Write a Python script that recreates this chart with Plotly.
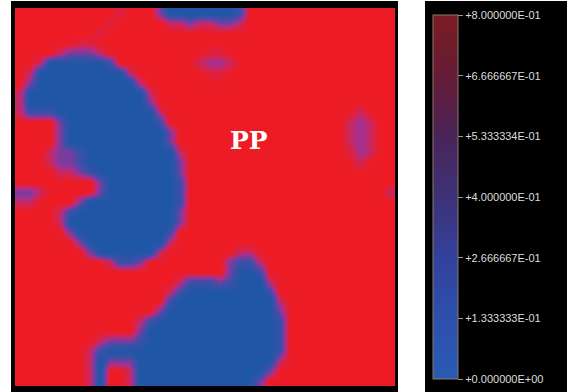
import plotly.graph_objects as go

# Phase-field map: 38 x 38 cells, row 0 = top
# B=0.0 (blue)  q=0.2  p=0.4  m=0.5  r=0.6  s=0.7  .=0.8 (red)
grid_rows = [
    "..........s...pBBBBBBBq...............",
    ".........s.....rrprrppr...............",
    "........s.............................",
    "......ss..............................",
    "....rpppr..........ss.................",
    "..rBBBBBBq........rmmr................",
    ".rBBBBBBBBBr.......ss.................",
    ".pBBBBBBBBBBr.........................",
    "rBBBBBBBBBBBBr........................",
    "rBBBBBBBBBBBBp........................",
    "rqqqBBBBBBBBBBr...................r...",
    "....pBBBBBBBBBq..................rmr..",
    "....pBBBBBBBBBBp.................rmr..",
    "....pBBBBBBBBBBp.................rmr..",
    "...rppqBBBBBBBBBr................smr..",
    "...rppqBBBBBBBBBp.................r...",
    "....rrpqBBBBBBBBp.....................",
    "........pBBBBBBBq.....................",
    "ppr.....pBBBBBBBq....................r",
    "rr....pBBBBBBBBBq.....................",
    "....rqBBBBBBBBBBp.....................",
    "....rBBBBBBBBBBBp.....................",
    ".....pBBBBBBBBBq......................",
    "......pBBBBBBBBr......................",
    ".......pBBBBBBr.......rr..............",
    ".........rqqp........pqqr.............",
    ".....................pBBq.............",
    "................rqqqpqBBBr............",
    "...............rqBBBBBBBBq............",
    "...............qBBBBBBBBBBr...........",
    "..............pBBBBBBBBBBBp...........",
    "............rqBBBBBBBBBBBBq...........",
    "............pBBBBBBBBBBBBBq...........",
    "........rpppqBBBBBBBBBBBBBq...........",
    ".......rqBBBBBBBBBBBBBBBBBq...........",
    ".......rBpppBBBBBBBBBBBBBBr...........",
    ".......rB..rBBBBBBBBBBBBBp............",
    ".......rB..rBBBBBBBBBBBBp.............",
]
level_of = {"B": 0.0, "q": 0.2, "p": 0.4, "m": 0.5, "r": 0.6, "s": 0.7, ".": 0.8}

tick_vals = [0.0, 0.1333333, 0.2666667, 0.4, 0.5333334, 0.6666667, 0.8]
tick_text = ["+0.000000E+00", "+1.333333E-01", "+2.666667E-01", "+4.000000E-01",
             "+5.333334E-01", "+6.666667E-01", "+8.000000E-01"]
label_text = "PP"

z = [[level_of[c] for c in row] for row in grid_rows]
n_rows = len(grid_rows)
n_cols = len(grid_rows[0])

W, H = 567, 392
def px(x):
    return x / W
def py(y):
    return 1 - y / H

map_scale = [
    [0.0, "#1F56A6"], [0.3, "#3E4FA8"], [0.5, "#7A3C9C"],
    [0.65, "#A8308E"], [0.8, "#D42450"], [1.0, "#ED1C24"],
]
bar_scale = [
    [0.0, "#2A5AB4"], [0.167, "#2D50AC"], [0.333, "#33419C"], [0.5, "#3D3278"],
    [0.667, "#4A2458"], [0.833, "#661C36"], [1.0, "#7A1C22"],
]

fig = go.Figure()
fig.add_trace(go.Heatmap(
    z=z, x=list(range(n_cols)), y=list(range(n_rows)),
    zmin=0, zmax=0.8, colorscale=map_scale, zsmooth="best",
    showscale=False, hoverinfo="skip",
))
fig.add_trace(go.Scatter(
    x=[None, None], y=[None, None], mode="markers",
    marker=dict(
        color=[0, 0.8], cmin=0, cmax=0.8, colorscale=bar_scale, showscale=True,
        colorbar=dict(
            x=px(433), xanchor="left", xpad=0,
            y=py(197), yanchor="middle", ypad=0,
            len=364, lenmode="pixels",
            thickness=25, thicknessmode="pixels",
            outlinecolor="#8a7a6a", outlinewidth=1,
            tickvals=tick_vals, ticktext=tick_text,
            ticks="outside", ticklen=5, tickcolor="#999999", tickwidth=1,
            tickfont=dict(family="Liberation Sans", size=11, color="#dddddd"),
            bgcolor="rgba(0,0,0,0)", borderwidth=0,
        ),
    ),
    showlegend=False, hoverinfo="skip",
))

fig.update_layout(
    width=W, height=H,
    margin=dict(l=0, r=0, t=0, b=0, pad=0, autoexpand=False),
    paper_bgcolor="white", plot_bgcolor="black",
    showlegend=False,
    xaxis=dict(domain=[px(15), px(395)], range=[-0.5, n_cols - 0.5],
               visible=False, fixedrange=True),
    yaxis=dict(domain=[py(386), py(8)], range=[n_rows - 0.5, -0.5],
               visible=False, fixedrange=True),
    shapes=[
        dict(type="rect", xref="paper", yref="paper", layer="below",
             x0=px(11), x1=px(398), y0=-0.01, y1=py(1),
             fillcolor="black", line=dict(width=0)),
        dict(type="rect", xref="paper", yref="paper", layer="below",
             x0=px(425), x1=1.01, y0=-0.01, y1=py(1),
             fillcolor="black", line=dict(width=0)),
    ],
    annotations=[
        dict(text=label_text, x=px(249), y=py(140), xref="paper", yref="paper",
             xanchor="center", yanchor="middle", showarrow=False,
             font=dict(family="DejaVu Serif", size=25, color="white", weight="bold")),
    ],
)

fig.write_html("out.html", config={"displayModeBar": False},
               post_script="document.body.style.margin='0px';document.body.style.overflow='hidden';")
